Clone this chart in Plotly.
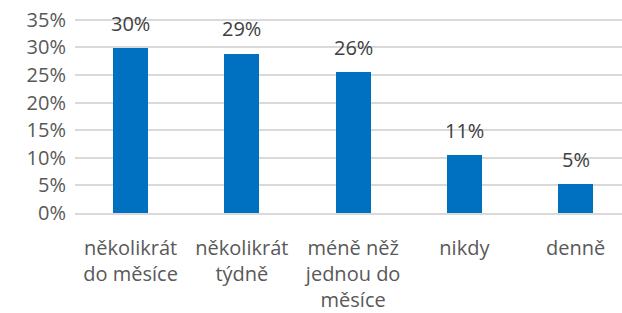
import plotly.graph_objects as go

categories = ["několikrát<br>do měsíce", "několikrát<br>týdně", "méně něž<br>jednou do<br>měsíce", "nikdy", "denně"]
values = [0.298, 0.288, 0.255, 0.105, 0.052]
labels = ["30%", "29%", "26%", "11%", "5%"]
y_ticks = [0, 0.05, 0.10, 0.15, 0.20, 0.25, 0.30, 0.35]
y_tick_labels = ["0%", "5%", "10%", "15%", "20%", "25%", "30%", "35%"]

FONT = "Open Sans"

fig = go.Figure()
fig.add_trace(go.Bar(
    x=categories, y=values,
    marker=dict(color="#0070C0", line=dict(width=0)),
    width=0.315,
    hoverinfo="skip",
))

for c, v, t in zip(categories, values, labels):
    fig.add_annotation(x=c, y=v, text=t, showarrow=False, yanchor="middle",
                       yshift=25, font=dict(family=FONT, size=20, color="#404040"))

fig.update_layout(
    width=622, height=313,
    margin=dict(l=75, r=0, t=18, b=100),
    paper_bgcolor="white", plot_bgcolor="white",
    showlegend=False,
    font=dict(family=FONT, size=20, color="#595959"),
    bargap=0,
)
fig.update_xaxes(
    type="category", range=[-0.5, 4.417], automargin=False,
    showgrid=False, showline=True, linecolor="#D9D9D9", linewidth=1.5,
    ticks="outside", ticklen=16, tickcolor="rgba(0,0,0,0)",
    tickfont=dict(family=FONT, size=20, color="#595959"),
    fixedrange=True,
)
fig.update_yaxes(
    range=[0, 0.353], tickvals=y_ticks, ticktext=y_tick_labels, automargin=False,
    showgrid=True, gridcolor="#D9D9D9", gridwidth=1.5,
    zeroline=False, showline=False,
    ticklabelstandoff=8, ticklabeloverflow="allow",
    tickfont=dict(family=FONT, size=20, color="#595959"),
    fixedrange=True,
)

# remove the browser's default 8px body margin so the figure fills the window exactly
fig.write_html("out.html", config={"displayModeBar": False},
               post_script="document.body.style.margin='0';")
